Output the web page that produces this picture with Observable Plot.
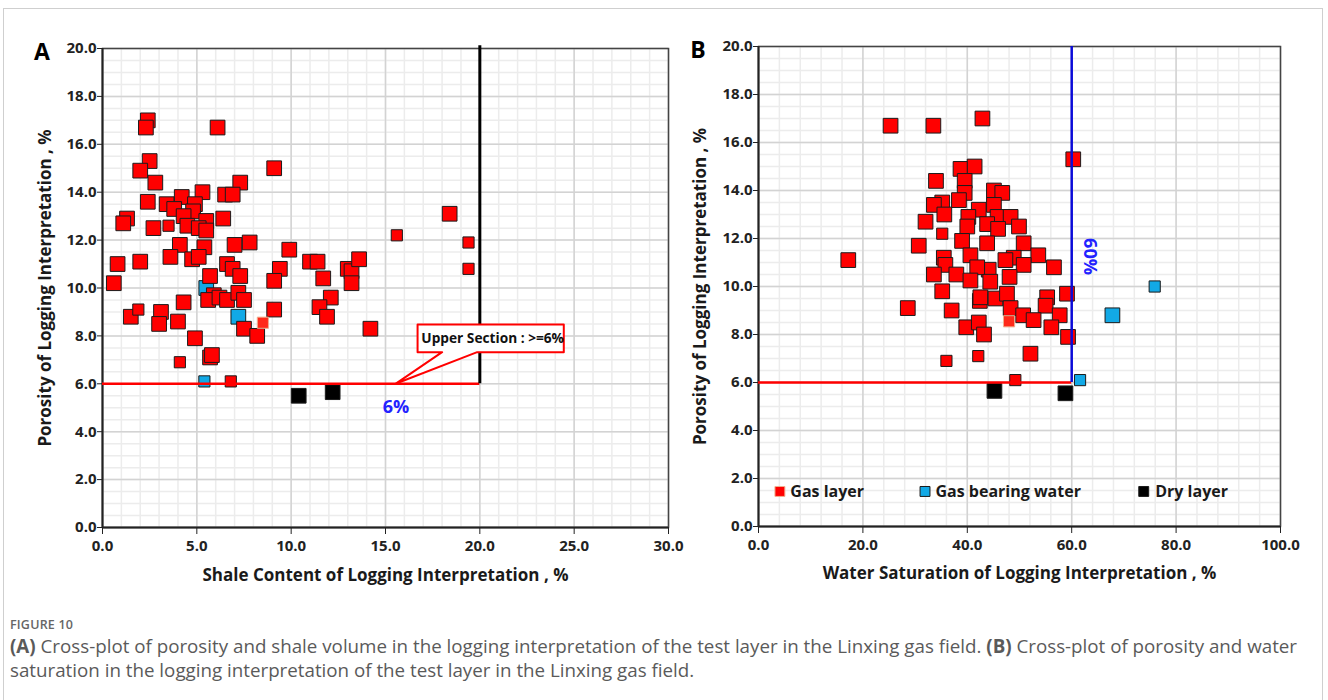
<!DOCTYPE html>
<html>
<head>
<meta charset="utf-8">
<script src="https://cdn.jsdelivr.net/npm/d3@7"></script>
<script src="https://cdn.jsdelivr.net/npm/@observablehq/plot@0.6"></script>
<style>
  html, body { margin: 0; padding: 0; background: #fff; }
  #fig { position: relative; width: 1328px; height: 700px; overflow: hidden; background: #fff; }
  #border { position: absolute; left: 3px; top: 8px; width: 1320px; height: 720px; border: 1px solid #cfcfcf; box-sizing: border-box; }
  #panelA { position: absolute; left: 0; top: 0; }
  #panelB { position: absolute; left: 680px; top: 0; }
  #caption { position: absolute; left: 10px; top: 615px; width: 1315px; font-family: "Open Sans", sans-serif; color: #5a5a5a; }
  #caption .fig { font-size: 12.5px; line-height: 19px; font-weight: 600; color: #666; letter-spacing: 0.2px; }
  #caption .txt { font-size: 18.75px; line-height: 24px; white-space: nowrap; }
  #caption b { font-weight: 700; }
</style>
</head>
<body>
<div id="fig">
  <div id="border"></div>
  <div id="panelA"></div>
  <div id="panelB"></div>
  <div id="caption">
    <div class="fig">FIGURE 10</div>
    <div class="txt"><b>(A)</b> Cross-plot of porosity and shale volume in the logging interpretation of the test layer in the Linxing gas field. <b>(B)</b> Cross-plot of porosity and water<br>saturation in the logging interpretation of the test layer in the Linxing gas field.</div>
  </div>
</div>
<script>
// ---- Axis ticks -------------------------------------------------------
const porosityTicks = [0, 2, 4, 6, 8, 10, 12, 14, 16, 18, 20];
const shaleTicks = [0, 5, 10, 15, 20, 25, 30];
const swTicks = [0, 20, 40, 60, 80, 100];

// ---- Cut-offs ---------------------------------------------------------
const porosityCut = 6;    // %
const shaleCut = 20;      // %
const swCut = 60;         // %

// ---- Panel A: shale content (%) vs porosity (%) -----------------------
// [shale, porosity] ; a third entry "s" marks a smaller marker
const shaleGas = [
  [2.4,17.0],[2.3,16.7],[6.1,16.7],[2.5,15.3],[2.0,14.9],[9.1,15.0],[2.8,14.4],[7.3,14.4],
  [5.3,14.0],[4.2,13.8],[6.5,13.9],[6.9,13.9],[2.4,13.6],[3.4,13.5],[3.8,13.3],[4.9,13.5],
  [4.8,13.2],[4.3,13.0],[1.3,12.9],[1.1,12.7],[2.7,12.5],[3.5,12.6,"s"],[4.5,12.6],[5.5,12.8],
  [6.4,12.9],[5.1,12.5],[5.5,12.4],[4.1,11.8],[5.4,11.7],[7.0,11.8],[7.8,11.9],[9.9,11.6],
  [3.6,11.3],[4.75,11.2],[5.1,11.3],[0.8,11.0],[2.0,11.1],[6.6,11.0],[6.9,10.8],[7.3,10.5],
  [5.7,10.5],[9.4,10.8],[9.1,10.3],[0.6,10.2],[5.9,9.7],[5.6,9.5],[6.2,9.6],[6.6,9.5],
  [7.2,9.8],[7.5,9.5],[4.3,9.4],[1.9,9.1,"s"],[1.5,8.8],[3.1,9.0],[3.0,8.5],[4.0,8.6],
  [9.1,9.1],[7.5,8.3],[8.2,8.0],[4.9,7.9],[5.7,7.1],[5.8,7.2],[4.1,6.9,"s"],[6.8,6.1,"s"],
  [11.0,11.1],[11.4,11.1],[11.7,10.4],[13.0,10.8],[13.2,10.7],[13.6,11.2],[13.2,10.2],
  [12.1,9.6],[11.5,9.2],[11.9,8.8],[14.2,8.3],[18.4,13.1],[15.6,12.2,"s"],[19.4,11.9,"s"],
  [19.4,10.8,"s"]
];
const shaleGasPale = [[8.5,8.55]];
const shaleGasWater = [[5.5,10.0],[7.2,8.8],[5.4,6.1,"s"]];
const shaleDry = [[10.4,5.5],[12.2,5.65]];

// ---- Panel B: water saturation (%) vs porosity (%) --------------------
const swGas = [
  [25.3,16.7],[33.5,16.7],[42.9,17.0],[60.3,15.3],[38.7,14.9],[41.4,15.0],[34.0,14.4],[39.5,14.4],
  [39.5,13.9],[45.1,14.0],[46.7,13.9],[45.1,13.4],[38.4,13.6],[35.2,13.5],[33.6,13.4],[35.6,13.0],
  [42.2,13.2],[40.2,12.9],[45.8,12.9],[48.3,12.9],[32.0,12.7],[40.0,12.5],[43.8,12.6],[45.9,12.4],
  [49.9,12.5],[35.2,12.2,"s"],[39.0,11.9],[43.8,11.8],[50.8,11.8],[30.7,11.7],[40.6,11.3],[35.5,11.2],
  [35.8,10.9],[48.9,11.2],[53.6,11.3],[47.3,11.1],[50.8,10.9],[44.1,10.7],[41.9,10.8],[37.9,10.5],
  [33.6,10.5],[40.6,10.25],[44.4,10.2],[48.1,10.4],[56.6,10.8],[35.2,9.8],[42.4,9.4],[42.5,9.55],
  [45.4,9.5],[47.6,9.7],[59.1,9.7],[55.3,9.55],[28.6,9.1],[37.0,9.0],[48.3,9.1],[55.0,9.2],
  [50.7,8.8],[52.7,8.6],[57.7,8.8],[39.8,8.3],[42.2,8.5],[43.2,8.0],[56.1,8.3],[59.3,7.9],
  [52.1,7.2],[42.1,7.1,"s"],[36.0,6.9,"s"],[49.2,6.1,"s"],[17.2,11.1]
];
const swGasPale = [[48.0,8.55]];
const swGasWater = [[75.9,10.0,"s"],[67.8,8.8],[61.6,6.1,"s"]];
const swDry = [[45.2,5.65],[58.8,5.55]];

// ---- Legend ----------------------------------------------------------
const legendLabels = ["Gas layer", "Gas bearing water", "Dry layer"];

// ---- Styling ---------------------------------------------------------
const RED = "#ff0000", BLUE = "#12a9e6", BLACK = "#000000";
const FONT = "Open Sans, sans-serif";
const fmt = d => d.toFixed(1);
const R_BIG = 8.3, R_SMALL = 6.3;

function squares(rows, fill, stroke) {
  const opts = {x: d => d[0], y: d => d[1], symbol: "square", fill, stroke, strokeWidth: 1};
  return [
    Plot.dot(rows.filter(d => d[2] !== "s"), {...opts, r: R_BIG}),
    Plot.dot(rows.filter(d => d[2] === "s"), {...opts, r: R_SMALL})
  ];
}

function gridMarks(xMinor, yMinor, xMajor, yMajor) {
  return [
    Plot.ruleX(xMinor, {stroke: "#ececec", strokeWidth: 1.5}),
    Plot.ruleY(yMinor, {stroke: "#ececec", strokeWidth: 1.5}),
    Plot.ruleX(xMajor, {stroke: "#d3d3d3", strokeWidth: 1.5}),
    Plot.ruleY(yMajor, {stroke: "#d3d3d3", strokeWidth: 1.5}),
    Plot.frame({stroke: "#444", strokeWidth: 1.5})
  ];
}

function axisMarks(xTicks, yTicks) {
  const t = {fontSize: 15, fontWeight: "bold", fill: "#222"};
  return [
    Plot.axisX({ticks: xTicks, tickFormat: fmt, tickSize: 7, tickPadding: 6, label: null, stroke: "#222", ...t}),
    Plot.axisY({ticks: yTicks, tickFormat: fmt, tickSize: 5, tickPadding: 1, label: null, stroke: "#222", ...t}),
    Plot.ruleX([xTicks[0]], {stroke: "#222", strokeWidth: 2}),
    Plot.ruleY([yTicks[0]], {stroke: "#222", strokeWidth: 2})
  ];
}

function titles(letter, xTitle, yTitle, yTitleDx, xTitleDy) {
  const base = {fontFamily: FONT, fontWeight: "bold", fill: "#1a1a1a", lineAnchor: "middle", textAnchor: "middle"};
  return [
    Plot.text([letter], {...base, text: d => d, frameAnchor: "top-left", dx: -60.5, dy: 4.5, fontSize: 23, fill: "#000"}),
    Plot.text([xTitle], {...base, text: d => d, frameAnchor: "bottom", dy: xTitleDy, fontSize: 17}),
    Plot.text([yTitle], {...base, text: d => d, frameAnchor: "left", dx: yTitleDx, rotate: -90, fontSize: 17})
  ];
}

const svgStyle = {fontFamily: FONT, fontSize: "15px", fontWeight: "bold", color: "#222", background: "transparent", overflow: "visible"};

// ---- Panel A ----------------------------------------------------------
const calloutBox = [
  [16.7, 8.48], [24.45, 8.48], [24.45, 7.32], [19.86, 7.32], [15.53, porosityCut], [18.0, 7.32], [16.7, 7.32], [16.7, 8.48]
];

const plotA = Plot.plot({
  width: 680, height: 600,
  marginLeft: 102, marginRight: 12, marginTop: 48, marginBottom: 73,
  x: {domain: [0, 30]},
  y: {domain: [0, 20]},
  style: svgStyle,
  marks: [
    ...gridMarks(d3.range(0, 30.01, 1), d3.range(0, 20.01, 0.5), shaleTicks, porosityTicks),
    ...axisMarks(shaleTicks, porosityTicks),
    ...squares(shaleGasWater, BLUE, "#1b1b1b"),
    ...squares(shaleGas, RED, "#1b1b1b"),
    Plot.dot(shaleGasPale, {x: d => d[0], y: d => d[1], symbol: "square", r: R_SMALL, fill: "#ff2a1a", stroke: "#f0b090", strokeWidth: 1}),
    ...squares(shaleDry, BLACK, "#1b1b1b"),
    Plot.ruleY([porosityCut], {x1: 0, x2: shaleCut, stroke: RED, strokeWidth: 2.5}),
    Plot.ruleX([shaleCut], {y1: porosityCut, y2: 20.12, stroke: "#000", strokeWidth: 3}),
    Plot.line(calloutBox, {x: d => d[0], y: d => d[1], stroke: RED, strokeWidth: 2, fill: "white"}),
    Plot.text(["Upper Section : >=" + porosityCut + "%"], {x: 16.9, y: 7.9, text: d => d, textAnchor: "start", fontSize: 13.7, fontWeight: "bold", fill: "#111", fontFamily: FONT}),
    Plot.text([porosityCut + "%"], {x: 15.55, y: 5.02, text: d => d, fontSize: 18, fontWeight: "bold", fill: "#2222ff", fontFamily: FONT}),
    ...titles("A", "Shale Content of Logging Interpretation , %", "Porosity of Logging Interpretation , %", -57, 48)
  ]
});
document.getElementById("panelA").appendChild(plotA);

// ---- Panel B ----------------------------------------------------------
const legendMarks = [
  Plot.dot([[4.1, 1.46]], {x: d => d[0], y: d => d[1], symbol: "square", r: 5.6, fill: RED, stroke: "#f0b090", strokeWidth: 1}),
  Plot.dot([[31.9, 1.46]], {x: d => d[0], y: d => d[1], symbol: "square", r: 5.6, fill: BLUE, stroke: "#1b1b1b", strokeWidth: 1}),
  Plot.dot([[73.8, 1.46]], {x: d => d[0], y: d => d[1], symbol: "square", r: 5.6, fill: BLACK, stroke: "#1b1b1b", strokeWidth: 1}),
  Plot.text([[6.1, 1.46, legendLabels[0]], [33.9, 1.46, legendLabels[1]], [76.0, 1.46, legendLabels[2]]],
    {x: d => d[0], y: d => d[1], text: d => d[2], textAnchor: "start", fontSize: 16, fontWeight: "bold", fill: "#1a1a1a", fontFamily: FONT})
];

const plotB = Plot.plot({
  width: 648, height: 600,
  marginLeft: 78, marginRight: 48, marginTop: 46, marginBottom: 74,
  x: {domain: [0, 100]},
  y: {domain: [0, 20]},
  style: svgStyle,
  marks: [
    ...gridMarks(d3.range(0, 100.01, 4), d3.range(0, 20.01, 0.5), swTicks, porosityTicks),
    ...axisMarks(swTicks, porosityTicks),
    ...squares(swGasWater, BLUE, "#1b1b1b"),
    ...squares(swGas, RED, "#1b1b1b"),
    Plot.dot(swGasPale, {x: d => d[0], y: d => d[1], symbol: "square", r: R_SMALL, fill: "#ff2a1a", stroke: "#f0b090", strokeWidth: 1}),
    ...squares(swDry, BLACK, "#1b1b1b"),
    Plot.ruleY([porosityCut], {x1: 0, x2: swCut, stroke: RED, strokeWidth: 2.5}),
    Plot.ruleX([swCut], {y1: porosityCut, y2: 20, stroke: "#0a0ad8", strokeWidth: 2.5}),
    Plot.text([swCut + "%"], {x: 63.4, y: 11.25, text: d => d, rotate: 90, fontSize: 18, fontWeight: "bold", fill: "#2222ff", fontFamily: FONT}),
    ...legendMarks,
    ...titles("B", "Water Saturation of Logging Interpretation , %", "Porosity of Logging Interpretation , %", -57.5, 47)
  ]
});
document.getElementById("panelB").appendChild(plotB);
</script>
</body>
</html>
